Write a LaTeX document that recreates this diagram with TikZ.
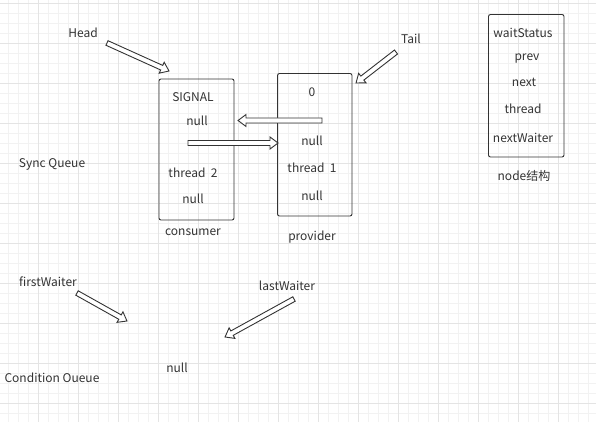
\documentclass[tikz,border=0pt]{standalone}
\usepackage{fontspec}
\setmainfont{Noto Sans CJK SC}
\usetikzlibrary{calc}
\definecolor{gridminor}{HTML}{F2F2F2}
\definecolor{gridmajor}{HTML}{E4E4E4}
\definecolor{ink}{HTML}{333333}
\tikzset{
  lbl/.style={text=ink, font=\fontsize{12}{14}\selectfont, inner sep=0pt, anchor=center},
  structbox/.style={draw=ink, line width=0.9pt, rounded corners=2pt},
  arrowline/.style={draw=ink, line width=0.9pt, fill=white, line join=miter},
}
\newcommand\hollowarrow[2]{%
  \draw[arrowline] let \p1=($(#2)-(#1)$), \n1={atan2(\y1,\x1)}, \n2={veclen(\x1,\y1)} in
   [shift={(#1)}, rotate=\n1] (0pt,2.5pt) -- (\n2-8pt,2.5pt) -- (\n2-8pt,6pt) -- (\n2,0pt)
   -- (\n2-8pt,-6pt) -- (\n2-8pt,-2.5pt) -- (0pt,-2.5pt) -- cycle;}
\begin{document}
\begin{tikzpicture}[x=1pt,y=-1pt]
\useasboundingbox (0,0) rectangle (596,422);
\fill[white] (0,0) rectangle (596,422);
% grid
\foreach \x in {8,18,...,596} \draw[gridminor, line width=0.8pt] (\x,0) -- (\x,422);
\foreach \y in {3,13,...,422} \draw[gridminor, line width=0.8pt] (0,\y) -- (596,\y);
\foreach \x in {38,78,...,596} \draw[gridmajor, line width=0.8pt] (\x,0) -- (\x,422);
\foreach \y in {3,43,...,422} \draw[gridmajor, line width=0.8pt] (0,\y) -- (596,\y);

% boxes
\draw[structbox] (159,79) rectangle (234,220);
\coordinate (consumerbox) at (196.5,149.5);
\draw[structbox] (277.5,73.5) rectangle (352,216);
\coordinate (providerbox) at (315,145);
\draw[structbox] (488.5,14.5) rectangle (564,157);
\coordinate (structbox) at (526,86);

% consumer texts
\node[lbl] (c1) at (193,97) {SIGNAL};
\node[lbl] (c2) at (197,121) {null};
\node[lbl] (c3) at (193,173) {thread\ \ 2};
\node[lbl] (c4) at (193,199) {null};
\node[lbl] (consumer) at (193,232) {consumer};

% provider texts
\node[lbl] (p1) at (312,92) {0};
\node[lbl] (p2) at (312,141) {null};
\node[lbl] (p3) at (312,168) {thread\ \ 1};
\node[lbl] (p4) at (312,196) {null};
\node[lbl] (provider) at (312,237) {provider};

% struct texts
\node[lbl] (s1) at (523,33) {waitStatus};
\node[lbl] (s2) at (527,59) {prev};
\node[lbl] (s3) at (524,82) {next};
\node[lbl] (s4) at (523,109) {thread};
\node[lbl] (s5) at (523,138) {nextWaiter};
\node[lbl] (nodestruct) at (524,176) {node结构};

% other labels
\node[lbl] (head) at (83,33) {Head};
\node[lbl] (tail) at (411,39) {Tail};
\node[lbl] (sync) at (52,164) {Sync Queue};
\node[lbl] (first) at (48,282) {firstWaiter};
\node[lbl] (last) at (287,286) {lastWaiter};
\node[lbl] (cnull) at (177,368) {null};
\node[lbl] (cond) at (52,378) {Condition Oueue};

% arrow endpoints
\coordinate (headS) at (107,43);
\coordinate (headE) at (169,71);
\coordinate (tailS) at (396,52);
\coordinate (tailE) at (356,83);
\coordinate (prevS) at (322,120.5);
\coordinate (prevE) at (238,120.5);
\coordinate (nextS) at (188,143);
\coordinate (nextE) at (278,143);
\coordinate (firstS) at (77,293);
\coordinate (firstE) at (127,321);
\coordinate (lastS) at (294,299);
\coordinate (lastE) at (225,337);

\hollowarrow{headS}{headE}
\hollowarrow{tailS}{tailE}
\hollowarrow{prevS}{prevE}
\hollowarrow{nextS}{nextE}
\hollowarrow{firstS}{firstE}
\hollowarrow{lastS}{lastE}
\end{tikzpicture}
\end{document}
